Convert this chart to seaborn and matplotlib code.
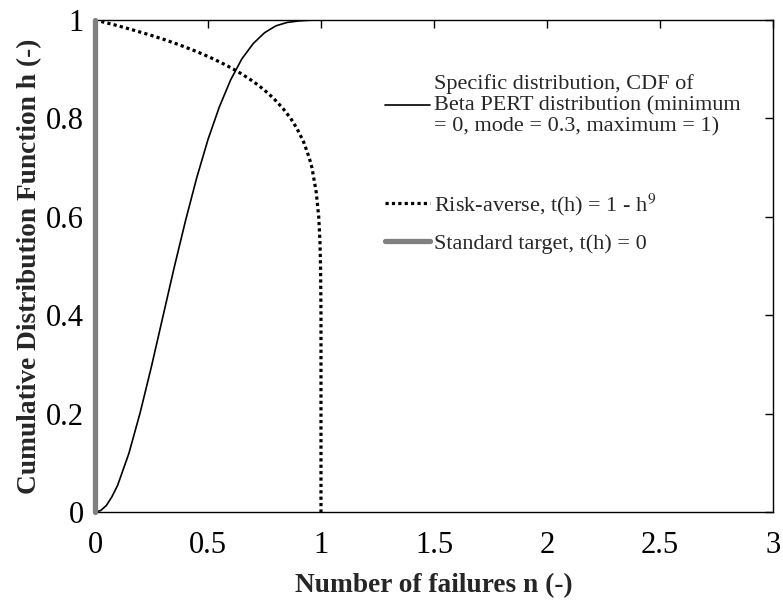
import numpy as np
import pandas as pd
import matplotlib
matplotlib.use("Agg")
import matplotlib.pyplot as plt
import seaborn as sns

# ---- data ----
# Specific distribution: CDF of Beta PERT (min 0, mode 0.3, max 1)
pert_x = [0.0, 0.025, 0.05, 0.075, 0.1, 0.15, 0.2, 0.25, 0.3, 0.35, 0.4, 0.45,
          0.5, 0.55, 0.6, 0.65, 0.7, 0.75, 0.8, 0.85, 0.9, 0.95, 1.0]
pert_y = [0.0, 0.003, 0.013, 0.031, 0.054, 0.119, 0.202, 0.296, 0.396, 0.496,
          0.591, 0.679, 0.757, 0.823, 0.878, 0.921, 0.952, 0.974, 0.988, 0.995,
          0.998, 0.9995, 1.0]
# Risk-averse target t(h) = 1 - h^9
risk_x = [0.0, 0.044, 0.087, 0.166, 0.240, 0.308, 0.370, 0.427, 0.480, 0.528,
          0.572, 0.613, 0.650, 0.684, 0.715, 0.743, 0.768, 0.792, 0.832, 0.866,
          0.893, 0.915, 0.925, 0.948, 0.960, 0.979, 0.990, 0.9954, 0.998, 0.9992,
          1.0, 1.0, 1.0]
risk_y = [1.0, 0.995, 0.99, 0.98, 0.97, 0.96, 0.95, 0.94, 0.93, 0.92,
          0.91, 0.90, 0.89, 0.88, 0.87, 0.86, 0.85, 0.84, 0.82, 0.80,
          0.78, 0.76, 0.75, 0.72, 0.70, 0.65, 0.60, 0.55, 0.50, 0.45,
          0.40, 0.20, 0.0]
# Standard target t(h) = 0
std_x = [0.0, 0.0]
std_y = [0.0, 1.0]

x_ticks = [0, 0.5, 1, 1.5, 2, 2.5, 3]
x_tick_labels = ["0", "0.5", "1", "1.5", "2", "2.5", "3"]
y_ticks = [0, 0.2, 0.4, 0.6, 0.8, 1]
y_tick_labels = ["0", "0.2", "0.4", "0.6", "0.8", "1"]

labels = ["Specific distribution, CDF of\nBeta PERT distribution (minimum\n= 0, mode = 0.3, maximum = 1)",
          "Risk-averse, t(h) = 1 - h$^{9}$",
          "Standard target, t(h) = 0"]

sns.set_style("white")
plt.rcParams["font.family"] = ["Liberation Serif", "DejaVu Serif"]
plt.rcParams["mathtext.fontset"] = "stix"

fig = plt.figure(figsize=(7.83, 6.02), dpi=100)
ax = fig.add_axes([0.1213, 0.1495, 0.8659, 0.8173])

df1 = pd.DataFrame({"x": pert_x, "y": pert_y})
df2 = pd.DataFrame({"x": risk_x, "y": risk_y})
df3 = pd.DataFrame({"x": std_x, "y": std_y})

sns.lineplot(data=df1, x="x", y="y", ax=ax, color="black", linewidth=1.2,
             estimator=None, sort=False, label=labels[0])
sns.lineplot(data=df2, x="x", y="y", ax=ax, color="black", linewidth=2.3,
             estimator=None, sort=False, label=labels[1], dashes=False)
ax.lines[-1].set_dashes([1.0, 1.0])
sns.lineplot(data=df3, x="x", y="y", ax=ax, color="#808080", linewidth=3.8,
             estimator=None, sort=False, label=labels[2])
ax.lines[-1].set_clip_on(False)
ax.lines[-1].set_zorder(5)

ax.set_xlim(0, 3)
ax.set_ylim(0, 1)
ax.set_xticks(x_ticks)
ax.set_xticklabels(x_tick_labels)
ax.set_yticks(y_ticks)
ax.set_yticklabels(y_tick_labels)
ax.tick_params(direction="in", length=6, width=1, labelsize=22,
               top=True, right=True, colors="black")
ax.tick_params(axis="x", pad=14)
ax.tick_params(axis="y", pad=8)
for s in ax.spines.values():
    s.set_color("black")
    s.set_linewidth(1.0)
    s.set_visible(True)

ax.set_xlabel("Number of failures n (-)", fontsize=19.7, fontweight="bold", labelpad=9)
ax.set_ylabel("Cumulative Distribution Function h (-)", fontsize=19.7, fontweight="bold", labelpad=3)

handles = ax.lines
ax.get_legend().remove()
leg1 = ax.legend([handles[0]], [labels[0]], loc="center left",
                 bbox_to_anchor=(0.428, 0.826), frameon=False, fontsize=16,
                 borderpad=0, borderaxespad=0, handlelength=2.0, handletextpad=0.2)
for t in leg1.get_texts():
    t.set_linespacing(1.13)
ax.add_artist(leg1)
leg2 = ax.legend([handles[1], handles[2]], labels[1:], loc="center left",
                 bbox_to_anchor=(0.428, 0.588), frameon=False, fontsize=16,
                 borderpad=0, borderaxespad=0, handlelength=2.0, handletextpad=0.2,
                 labelspacing=0.7)

fig.savefig("out.png", dpi=100)
